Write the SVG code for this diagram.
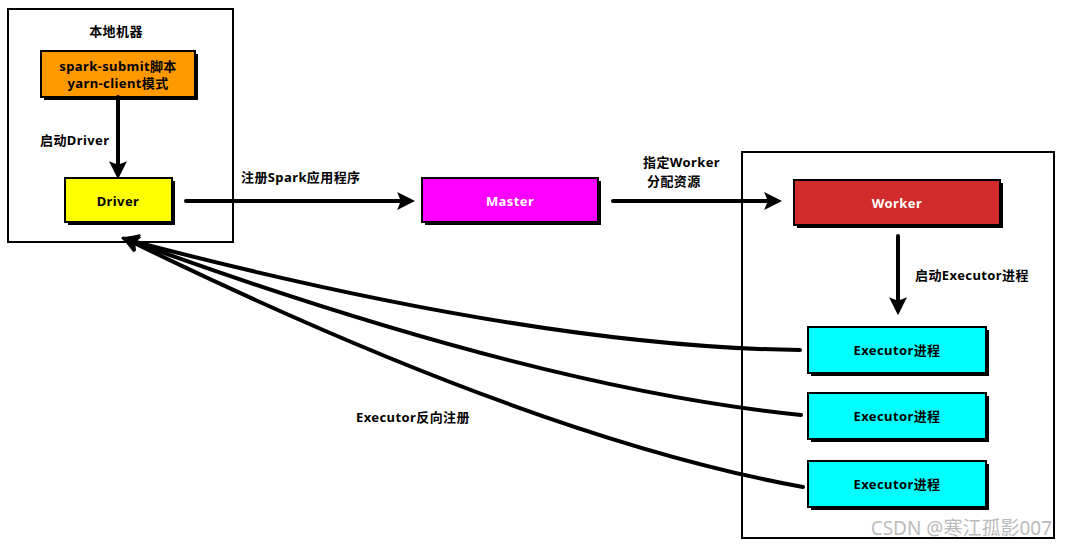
<svg xmlns="http://www.w3.org/2000/svg" width="1066" height="548" viewBox="0 0 1066 548">
<defs>
<style>
.frame{fill:#fff;stroke:#000;stroke-width:2}
.sh{fill:#000}
.box{stroke:#000;stroke-width:2}
.t{font-family:"Noto Sans","Noto Sans CJK SC",sans-serif;font-weight:bold;font-size:13px;letter-spacing:0.4px;fill:#000}
.c{text-anchor:middle}
.w{fill:#fff}
.ln{fill:none;stroke:#000;stroke-width:4;stroke-linecap:round}
</style>
<marker id="ah" viewBox="0 0 10 10" refX="6" refY="5" markerWidth="4.5" markerHeight="4.5" orient="auto" markerUnits="strokeWidth">
<path d="M0,0 L10,5 L0,10 L2,5 Z" fill="#000"/>
</marker>
</defs>
<rect width="1066" height="548" fill="#fff"/>
<g id="local">
<rect class="frame" x="8" y="9" width="225" height="233"/>
<text class="t c" x="116" y="36">本地机器</text>
</g>
<g id="cluster">
<rect class="frame" x="742" y="152" width="312" height="386"/>
</g>
<g id="submit">
<rect class="sh" x="44" y="54" width="154" height="46"/>
<rect class="box" x="41" y="51" width="154" height="46" fill="#ff9900"/>
<text class="t c" x="118" y="71">spark-submit脚本</text>
<text class="t c" x="118" y="88">yarn-client模式</text>
</g>
<g id="driver">
<rect class="sh" x="68" y="181" width="107" height="44"/>
<rect class="box" x="65" y="178" width="107" height="44" fill="#ffff00"/>
<text class="t c" x="118" y="206">Driver</text>
</g>
<g id="master">
<rect class="sh" x="425" y="181" width="176" height="44"/>
<rect class="box" x="422" y="178" width="176" height="44" fill="#ff00ff"/>
<text class="t c w" x="510" y="206">Master</text>
</g>
<g id="worker">
<rect class="sh" x="797" y="183" width="206" height="45"/>
<rect class="box" x="794" y="180" width="206" height="45" fill="#d12b2b"/>
<text class="t c w" x="897" y="208">Worker</text>
</g>
<g id="executor1">
<rect class="sh" x="811" y="330" width="178" height="46"/>
<rect class="box" x="808" y="327" width="178" height="46" fill="#00ffff"/>
<text class="t c" x="897" y="355">Executor进程</text>
</g>
<g id="executor2">
<rect class="sh" x="811" y="396" width="178" height="46"/>
<rect class="box" x="808" y="393" width="178" height="46" fill="#00ffff"/>
<text class="t c" x="897" y="421">Executor进程</text>
</g>
<g id="executor3">
<rect class="sh" x="811" y="464" width="178" height="46"/>
<rect class="box" x="808" y="461" width="178" height="46" fill="#00ffff"/>
<text class="t c" x="897" y="489">Executor进程</text>
</g>
<g id="connectors">
<path class="ln" d="M118,97 L118,172" marker-end="url(#ah)"/>
<text class="t" x="40" y="145">启动Driver</text>
<path class="ln" d="M186,201 L408,201" marker-end="url(#ah)"/>
<text class="t" x="241" y="182">注册Spark应用程序</text>
<path class="ln" d="M613,201 L775,201" marker-end="url(#ah)"/>
<text class="t" x="643" y="167">指定Worker</text>
<text class="t" x="647" y="186">分配资源</text>
<path class="ln" d="M898,236 L898,308" marker-end="url(#ah)"/>
<text class="t" x="915" y="280">启动Executor进程</text>
<path class="ln" d="M800,350 Q535,347 128,240" marker-end="url(#ah)"/>
<path class="ln" d="M801,415 Q534,388 128,240" marker-end="url(#ah)"/>
<path class="ln" d="M803,487 Q534,438 128,240" marker-end="url(#ah)"/>
<text class="t" x="356" y="422">Executor反向注册</text>
</g>
<text x="1052" y="535" text-anchor="end" font-family="'Noto Sans','Noto Sans CJK SC',sans-serif" font-size="19" fill="#bbb">CSDN @寒江孤影007</text>
</svg>
